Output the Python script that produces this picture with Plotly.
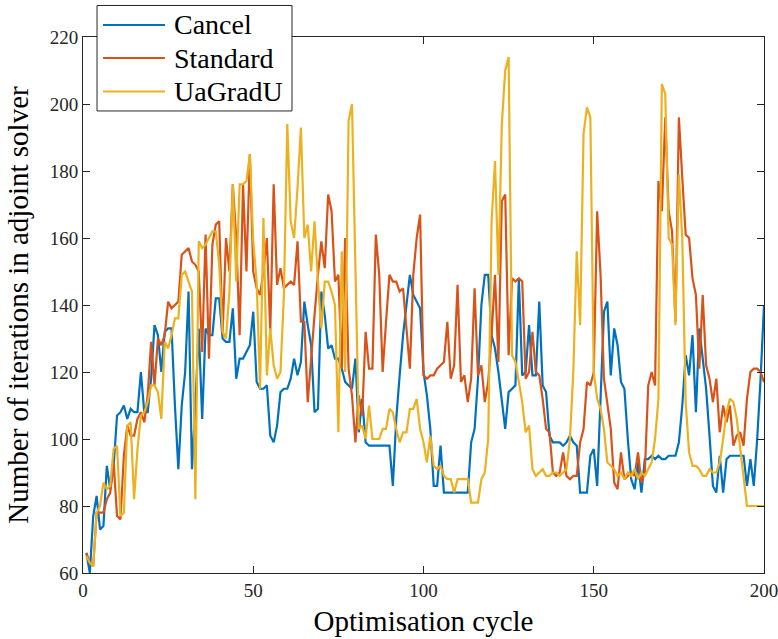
import plotly.graph_objects as go

# Optimisation cycles 1..200
cycles = list(range(1, 201))

# Adjoint solver iterations per cycle for each formulation
cancel = [
    66, 60, 77, 83, 73, 74, 92, 85, 92, 107,
    108, 110, 106, 109, 108, 108, 120, 108, 108, 118,
    134, 131, 120, 132, 133, 133, 110, 91, 110, 120,
    144, 91, 110, 133, 106, 133, 131, 131, 142, 142,
    130, 129, 129, 139, 118, 124, 124, 126, 128, 138,
    117, 115, 115, 116, 101, 99, 104, 114, 115, 115,
    118, 124, 119, 123, 141, 134, 128, 108, 109, 144,
    137, 127, 128, 124, 124, 121, 117, 116, 115, 124,
    102, 112, 99, 98, 98, 98, 98, 98, 98, 98,
    86, 106, 119, 131, 140, 149, 143, 141, 139, 120,
    113, 103, 86, 86, 98, 84, 84, 84, 84, 84,
    84, 84, 84, 99, 103, 118, 140, 149, 149, 131,
    127, 120, 112, 103, 114, 115, 116, 148, 119, 120,
    134, 119, 119, 141, 116, 114, 101, 99, 99, 99,
    98, 99, 101, 99, 98, 84, 84, 84, 95, 97,
    86, 114, 138, 141, 119, 133, 128, 117, 115, 100,
    88, 85, 93, 84, 94, 94, 95, 94, 95, 94,
    94, 95, 95, 95, 99, 110, 125, 119, 131, 108,
    133, 124, 115, 101, 86, 84, 95, 84, 94, 95,
    95, 95, 95, 95, 86, 94, 86, 100, 118, 140,
]

standard = [
    66, 63, 62, 78, 78, 78, 82, 84, 93, 77,
    76, 95, 104, 101, 101, 106, 108, 105, 113, 129,
    116, 130, 128, 131, 141, 139, 140, 141, 155, 156,
    157, 153, 152, 150, 126, 161, 124, 158, 164, 165,
    131, 160, 150, 176, 160, 131, 176, 150, 185, 150,
    145, 143, 150, 160, 132, 176, 146, 151, 145, 146,
    147, 146, 159, 135, 135, 111, 125, 137, 149, 159,
    151, 173, 168, 147, 149, 121, 160, 121, 113, 99,
    113, 107, 132, 121, 121, 161, 149, 120, 135, 149,
    147, 147, 144, 145, 133, 121, 149, 160, 167, 119,
    118, 119, 119, 121, 122, 123, 135, 118, 122, 146,
    117, 119, 111, 118, 145, 119, 122, 111, 117, 131,
    149, 123, 171, 173, 125, 148, 147, 148, 147, 118,
    120, 132, 120, 119, 112, 103, 102, 90, 89, 90,
    96, 89, 88, 89, 89, 99, 103, 117, 116, 120,
    168, 149, 118, 111, 103, 87, 85, 96, 88, 89,
    90, 89, 96, 87, 90, 116, 120, 116, 177, 168,
    196, 168, 162, 135, 196, 178, 161, 160, 148, 143,
    121, 143, 122, 118, 111, 118, 102, 110, 105, 110,
    98, 101, 102, 98, 112, 120, 121, 121, 120, 117,
]

uagradu = [
    65, 63, 62, 78, 80, 87, 85, 86, 97, 98,
    77, 78, 104, 105, 82, 97, 107, 108, 111, 116,
    116, 114, 106, 129, 127, 131, 136, 136, 149, 150,
    147, 144, 82, 159, 157, 158, 160, 162, 162, 152,
    132, 130, 144, 176, 147, 176, 176, 177, 185, 159,
    147, 115, 166, 119, 133, 122, 118, 120, 143, 194,
    165, 160, 175, 193, 160, 164, 150, 165, 147, 133,
    147, 147, 144, 140, 102, 156, 120, 195, 200, 150,
    103, 104, 100, 110, 100, 100, 100, 103, 103, 109,
    108, 103, 99, 102, 102, 109, 109, 112, 103, 99,
    93, 101, 92, 91, 92, 89, 88, 88, 84, 88,
    88, 88, 88, 81, 81, 81, 88, 90, 100, 165,
    183, 149, 194, 210, 214, 125, 123, 117, 111, 102,
    104, 91, 89, 90, 91, 89, 89, 90, 90, 89,
    90, 91, 100, 120, 156, 134, 191, 199, 196, 120,
    112, 109, 103, 93, 92, 91, 89, 90, 88, 90,
    89, 91, 88, 90, 89, 91, 93, 100, 112, 206,
    203, 160, 158, 134, 179, 160, 111, 96, 92, 92,
    91, 89, 89, 91, 90, 90, 93, 100, 108, 112,
    111, 106, 97, 87, 80, 80, 80, 80, 80, 80,
]

series = [
    ("Cancel", cancel, "#0072BD"),
    ("Standard", standard, "#D95319"),
    ("UaGradU", uagradu, "#EDB120"),
]

x_ticks = [0, 50, 100, 150, 200]
y_ticks = [60, 80, 100, 120, 140, 160, 180, 200, 220]

serif = "Liberation Serif, DejaVu Serif, serif"
axis_color = "#262626"
line_width = 2.2

fig = go.Figure()
for name, values, color in series:
    fig.add_trace(go.Scatter(
        x=cycles, y=values, name=name, mode="lines",
        line=dict(color=color, width=line_width),
        showlegend=False,
    ))

axis_common = dict(
    showgrid=False, zeroline=False, automargin=False,
    showline=True, linecolor=axis_color, linewidth=1,
    mirror="ticks", ticks="inside", ticklen=7, tickwidth=1,
    tickcolor=axis_color, ticklabeloverflow="allow",
    tickfont=dict(family=serif, size=19, color=axis_color),
)

fig.update_xaxes(
    range=[0, 200], tickvals=x_ticks,
    title=dict(text="Optimisation cycle",
               font=dict(family=serif, size=29, color="#000000"),
               standoff=10),
    **axis_common,
)
fig.update_yaxes(
    range=[60, 220], tickvals=y_ticks,
    title=dict(text="Number of iterations in adjoint solver",
               font=dict(family=serif, size=29, color="#000000"),
               standoff=12),
    **axis_common,
)

# Legend box in the upper-left corner, drawn in paper coordinates
legend_box = dict(x0=0.0206, x1=0.3069, y0=0.862, y1=1.0588)
legend_rows = [1.0224, 0.9608, 0.8983]
legend_line_x = (0.0294, 0.1204)
legend_text_x = 0.1307

shapes = [dict(
    type="rect", xref="paper", yref="paper", layer="above",
    line=dict(color=axis_color, width=1), fillcolor="white",
    **legend_box,
)]
annotations = []
for (name, _, color), yrow in zip(series, legend_rows):
    shapes.append(dict(
        type="line", xref="paper", yref="paper", layer="above",
        x0=legend_line_x[0], x1=legend_line_x[1], y0=yrow, y1=yrow,
        line=dict(color=color, width=line_width),
    ))
    annotations.append(dict(
        text=name, xref="paper", yref="paper", x=legend_text_x, y=yrow,
        xanchor="left", yanchor="middle", showarrow=False,
        font=dict(family=serif, size=28, color="#000000"),
    ))

fig.update_layout(
    width=778, height=639,
    margin=dict(l=83, r=14, t=37, b=66, autoexpand=False),
    plot_bgcolor="white", paper_bgcolor="white",
    showlegend=False,
    shapes=shapes,
    annotations=annotations,
)

fig.write_html("out.html")
